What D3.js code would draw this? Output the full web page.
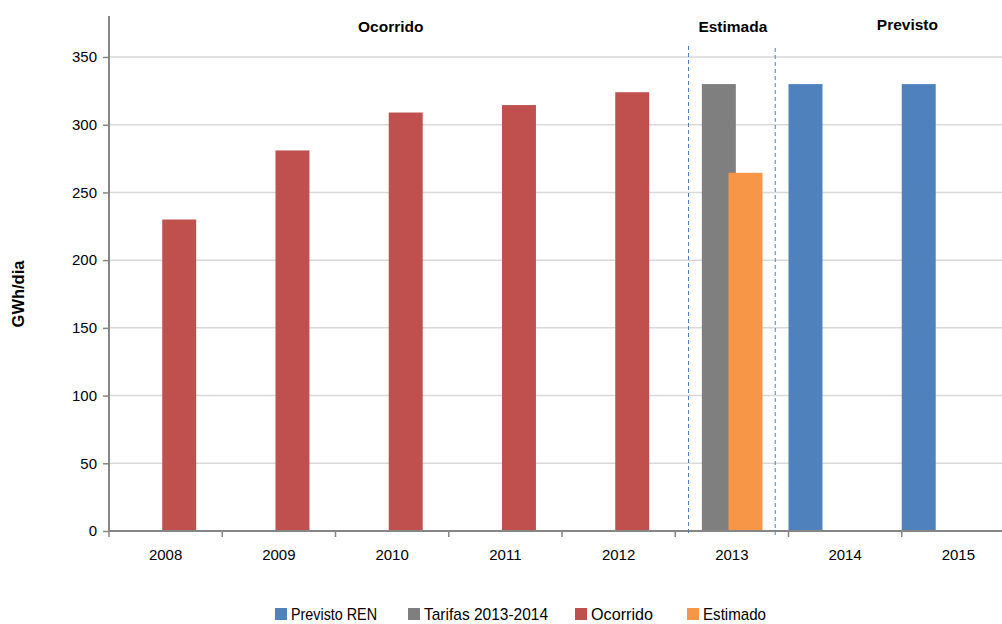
<!DOCTYPE html>
<html><head><meta charset="utf-8">
<script src="https://cdn.jsdelivr.net/npm/d3@7"></script>
<style>body{margin:0;background:#fff;} svg{display:block;font-family:"Liberation Sans",Arial,sans-serif;}</style>
</head><body>
<svg id="c" width="1002" height="624"></svg>
<script>
const years = ["2008","2009","2010","2011","2012","2013","2014","2015"];
const seriesNames = ["Previsto REN","Tarifas 2013-2014","Ocorrido","Estimado"];
const seriesColors = ["#4f81bd","#7f7f7f","#c0504d","#f79646"];
const previstoREN = [null,null,null,null,null,null,330,330];
const tarifas = [null,null,null,null,null,330,null,null];
const ocorrido = [230,281,309,314.5,324,null,null,null];
const estimado = [null,null,null,null,null,264.5,null,null];
const yTicks = [0,50,100,150,200,250,300,350];
const periodLabels = ["Ocorrido","Estimada","Previsto"];

const svg = d3.select("#c");
const x = d3.scaleBand().domain(years).range([109,1015]).paddingInner(0).paddingOuter(0);
const y = d3.scaleLinear().domain([0,350]).range([531,57]);
// slot positions within a category (Estimado shares slot with Ocorrido, as on a secondary axis)
const slot = d3.scaleBand().domain(["Previsto REN","Tarifas 2013-2014","Ocorrido"]).range([0, x.bandwidth()*0.705]).paddingInner(0);
const barW = x.bandwidth()*0.30;
const slotOf = {"Previsto REN":"Previsto REN","Tarifas 2013-2014":"Tarifas 2013-2014","Ocorrido":"Ocorrido","Estimado":"Ocorrido"};

// gridlines
svg.append("g").selectAll("line").data(yTicks.filter(d=>d>0)).join("line")
  .attr("x1",109).attr("x2",1002).attr("y1",d=>y(d)).attr("y2",d=>y(d))
  .attr("stroke","#d9d9d9").attr("stroke-width",1.5);

const data = [previstoREN,tarifas,ocorrido,estimado];
seriesNames.forEach((s,i)=>{
  const pts = years.map((yr,j)=>({yr,v:data[i][j]})).filter(d=>d.v!=null);
  svg.append("g").selectAll("rect").data(pts).join("rect")
    .attr("x",d=>x(d.yr)+slot(slotOf[s]))
    .attr("width",barW)
    .attr("y",d=>y(d.v)).attr("height",d=>y(0)-y(d.v))
    .attr("fill",seriesColors[i]);
});

// axes
const yAxis = svg.append("g").attr("transform","translate(109,0)")
  .call(d3.axisLeft(y).tickValues(yTicks).tickSize(6).tickPadding(6).tickSizeOuter(0));
yAxis.select(".domain").attr("d","M0,16V531").attr("stroke","#868686").attr("stroke-width",2);
yAxis.selectAll(".tick line").attr("stroke","#868686").attr("stroke-width",1.5);
yAxis.selectAll(".tick text").attr("font-size",15).attr("fill","#000");

const xAxis = svg.append("g").attr("transform","translate(0,531)")
  .call(d3.axisBottom(x).tickSize(0).tickPadding(18));
xAxis.select(".domain").attr("d","M109,0H1002").attr("stroke","#868686").attr("stroke-width",2);
xAxis.selectAll(".tick text").attr("font-size",15).attr("fill","#000");
svg.append("g").selectAll("line").data(years.concat(["end"])).join("line")
  .attr("x1",(d,i)=>109+i*x.step()).attr("x2",(d,i)=>109+i*x.step())
  .attr("y1",531).attr("y2",537).attr("stroke","#868686").attr("stroke-width",1.5);

// dashed separators
const seps = [x("2013")+x.bandwidth()*0.117, x("2014")-x.bandwidth()*0.117];
const sepTop = [46,48];
svg.append("g").selectAll("line").data(seps).join("line")
  .attr("x1",d=>d).attr("x2",d=>d).attr("y1",(d,i)=>sepTop[i]).attr("y2",535)
  .attr("stroke","#4f81bd").attr("stroke-width",1).attr("stroke-dasharray","4,3");

// period labels
const labX = [(x("2008")+seps[0])/2+ -8, (seps[0]+seps[1])/2+1, x("2015")+ x.bandwidth()*0.05];
const labY = [32,32,30];
svg.append("g").selectAll("text").data(periodLabels).join("text")
  .attr("x",(d,i)=>labX[i]).attr("y",(d,i)=>labY[i]).attr("text-anchor","middle")
  .attr("font-size",15.5).attr("font-weight","bold").text(d=>d);

// y title
svg.append("text").attr("transform","translate(24,294) rotate(-90)").attr("text-anchor","middle")
  .attr("font-size",16.5).attr("font-weight","bold").text("GWh/dia");

// legend
const legX = [275,408,575,687];
const legW = [86,124,62,63];
const lg = svg.append("g").selectAll("g").data(seriesNames).join("g")
  .attr("transform",(d,i)=>`translate(${legX[i]},608)`);
lg.append("rect").attr("width",12).attr("height",12).attr("fill",(d,i)=>seriesColors[i]);
lg.append("text").attr("x",16).attr("y",12).attr("font-size",17)
  .attr("textLength",(d,i)=>legW[i]).attr("lengthAdjust","spacingAndGlyphs").text(d=>d);
</script>
</body></html>
